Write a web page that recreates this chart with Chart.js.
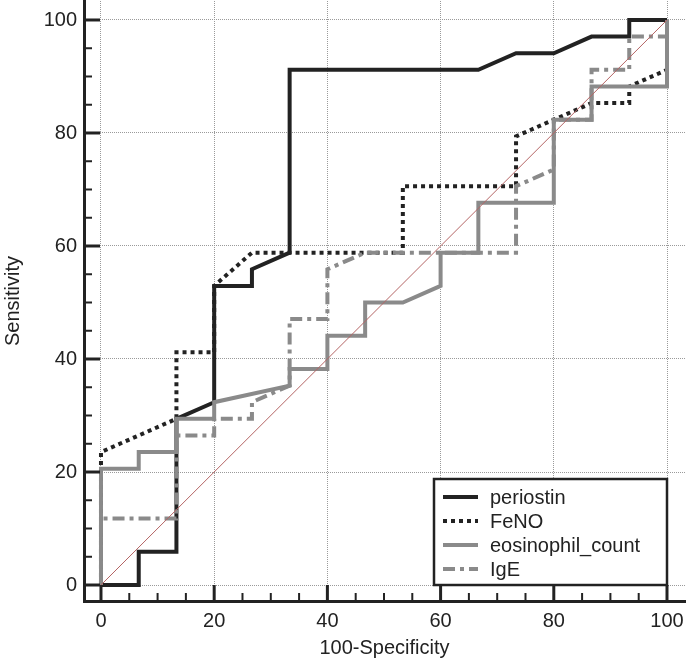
<!DOCTYPE html>
<html>
<head>
<meta charset="utf-8">
<script src="https://cdn.jsdelivr.net/npm/chart.js@4.4.1/dist/chart.umd.min.js"></script>
<style>
  html, body { margin: 0; padding: 0; background: #fff; }
  #wrap { width: 688px; height: 661px; }
</style>
</head>
<body>
<div id="wrap"><canvas id="rocChart"></canvas></div>
<script>
// ROC curves (x = 100-Specificity, y = Sensitivity)
const periostinX = [0, 6.67, 6.67, 13.33, 13.33, 20, 20, 26.67, 26.67, 33.33, 33.33, 66.67, 73.33, 80, 86.67, 93.33, 93.33, 100];
const periostinY = [0, 0, 5.88, 5.88, 29.41, 32.35, 52.94, 52.94, 55.88, 58.82, 91.18, 91.18, 94.12, 94.12, 97.06, 97.06, 100, 100];

const fenoX = [0, 0, 13.33, 13.33, 20, 20, 26.67, 53.33, 53.33, 73.33, 73.33, 86.67, 93.33, 93.33, 100, 100];
const fenoY = [0, 23.53, 29.41, 41.18, 41.18, 52.94, 58.82, 58.82, 70.59, 70.59, 79.41, 85.29, 85.29, 88.24, 91.18, 100];

const eosX = [0, 0, 6.67, 6.67, 13.33, 13.33, 20, 20, 33.33, 33.33, 40, 40, 46.67, 46.67, 53.33, 60, 60, 66.67, 66.67, 80, 80, 86.67, 86.67, 100, 100];
const eosY = [0, 20.59, 20.59, 23.53, 23.53, 29.41, 29.41, 32.35, 35.29, 38.24, 38.24, 44.12, 44.12, 50, 50, 52.94, 58.82, 58.82, 67.65, 67.65, 82.35, 82.35, 88.24, 88.24, 100];

const igeX = [0, 0, 13.33, 13.33, 20, 20, 26.67, 26.67, 33.33, 33.33, 40, 40, 46.67, 73.33, 73.33, 80, 80, 86.67, 86.67, 93.33, 93.33, 100, 100];
const igeY = [0, 11.76, 11.76, 26.47, 26.47, 29.41, 29.41, 32.35, 35.29, 47.06, 47.06, 55.88, 58.82, 58.82, 70.59, 73.53, 82.35, 82.35, 91.18, 91.18, 97.06, 97.06, 100];

const refX = [0, 100];
const refY = [0, 100];

const seriesNames = ['periostin', 'FeNO', 'eosinophil_count', 'IgE'];
const tickValues = [0, 5, 10, 15, 20, 25, 30, 35, 40, 45, 50, 55, 60, 65, 70, 75, 80, 85, 90, 95, 100];

const FONT = '"Liberation Sans", Arial, sans-serif';
const TXT = '#222';

function pts(xs, ys) {
  return xs.map((x, i) => ({ x: x, y: ys[i] }));
}

// ticks drawn inward from the offset axis lines, major every 20
const innerTicks = {
  id: 'innerTicks',
  afterDraw(chart) {
    const ctx = chart.ctx;
    const area = chart.chartArea;
    const xs = chart.scales.x, ys = chart.scales.y;
    ctx.save();
    ctx.strokeStyle = TXT;
    tickValues.forEach(v => {
      const major = v % 20 === 0;
      ctx.lineWidth = major ? 3 : 2;
      const len = major ? 16 : 8;
      const px = xs.getPixelForValue(v);
      ctx.beginPath();
      ctx.moveTo(px, area.bottom);
      ctx.lineTo(px, area.bottom - len);
      ctx.stroke();
      const py = ys.getPixelForValue(v);
      ctx.beginPath();
      ctx.moveTo(area.left, py);
      ctx.lineTo(area.left + len, py);
      ctx.stroke();
    });
    ctx.restore();
  }
};

// boxed legend in the lower right corner of the plot
const boxLegend = {
  id: 'boxLegend',
  afterDraw(chart) {
    const ctx = chart.ctx;
    const right = chart.scales.x.getPixelForValue(100);
    const bottom = chart.scales.y.getPixelForValue(0);
    const w = 233, h = 106;
    const left = right - w, top = bottom - h;
    ctx.save();
    ctx.fillStyle = '#fff';
    ctx.fillRect(left, top, w, h);
    ctx.lineWidth = 2.5;
    ctx.strokeStyle = TXT;
    ctx.strokeRect(left, top, w, h);
    ctx.font = '20px ' + FONT;
    ctx.textBaseline = 'middle';
    ctx.fillStyle = TXT;
    chart.data.datasets.slice(0, 4).forEach((ds, i) => {
      const y = top + 18 + i * 24;
      ctx.beginPath();
      ctx.lineWidth = ds.borderWidth;
      ctx.strokeStyle = ds.borderColor;
      ctx.lineCap = 'butt';
      ctx.setLineDash(ds.borderDash || []);
      ctx.moveTo(left + 9, y);
      ctx.lineTo(left + 44, y);
      ctx.stroke();
      ctx.setLineDash([]);
      ctx.fillText(ds.label, left + 56, y + 1);
    });
    ctx.restore();
  }
};

const gridColor = c => (c.tick && c.tick.value % 20 === 0) ? '#9a9a9a' : 'rgba(0,0,0,0)';

new Chart(document.getElementById('rocChart'), {
  type: 'scatter',
  data: {
    datasets: [
      { label: seriesNames[0], data: pts(periostinX, periostinY), borderColor: '#222222', borderWidth: 4, order: 4 },
      { label: seriesNames[1], data: pts(fenoX, fenoY), borderColor: '#222222', borderWidth: 4, borderDash: [4, 4], order: 3 },
      { label: seriesNames[2], data: pts(eosX, eosY), borderColor: '#8a8a8a', borderWidth: 4, order: 2 },
      { label: seriesNames[3], data: pts(igeX, igeY), borderColor: '#8a8a8a', borderWidth: 4, borderDash: [12, 5, 4, 5], order: 1 },
      { label: 'reference', data: pts(refX, refY), borderColor: '#b46464', borderWidth: 1, order: 0 }
    ].map(ds => Object.assign({ showLine: true, pointRadius: 0, fill: false, tension: 0, borderCapStyle: 'butt', borderJoinStyle: 'miter' }, ds))
  },
  options: {
    responsive: true,
    maintainAspectRatio: false,
    animation: false,
    events: [],
    layout: { padding: { top: 1, right: 3, bottom: 0, left: 0 } },
    plugins: { legend: { display: false }, tooltip: { enabled: false } },
    scales: {
      x: {
        type: 'linear',
        min: -3.0,
        max: 103.18,
        afterBuildTicks: axis => { axis.ticks = tickValues.map(v => ({ value: v })); },
        afterFit: axis => { axis.height = 60; axis.paddingLeft = 0; axis.paddingRight = 0; },
        ticks: {
          autoSkip: false,
          maxRotation: 0,
          padding: 8,
          color: TXT,
          font: { family: FONT, size: 20 },
          callback: v => (v % 20 === 0 ? String(v) : '')
        },
        grid: { drawTicks: false, color: gridColor, lineWidth: 1 },
        border: { display: true, color: TXT, width: 3, dash: [1, 1] },
        title: { display: true, text: '100-Specificity', color: TXT, padding: { top: 1, bottom: 1 }, font: { family: FONT, size: 20 } }
      },
      y: {
        type: 'linear',
        min: -2.83,
        max: 103.36,
        afterBuildTicks: axis => { axis.ticks = tickValues.map(v => ({ value: v })); },
        afterFit: axis => { axis.width = 84; axis.paddingTop = 0; axis.paddingBottom = 0; },
        ticks: {
          autoSkip: false,
          padding: 7,
          color: TXT,
          font: { family: FONT, size: 20 },
          callback: v => (v % 20 === 0 ? String(v) : '')
        },
        grid: { drawTicks: false, color: gridColor, lineWidth: 1 },
        border: { display: true, color: TXT, width: 3, dash: [1, 1] },
        title: { display: true, text: 'Sensitivity', color: TXT, padding: { top: 1, bottom: 1 }, font: { family: FONT, size: 20 } }
      }
    }
  },
  plugins: [innerTicks, boxLegend]
});
</script>
</body>
</html>
